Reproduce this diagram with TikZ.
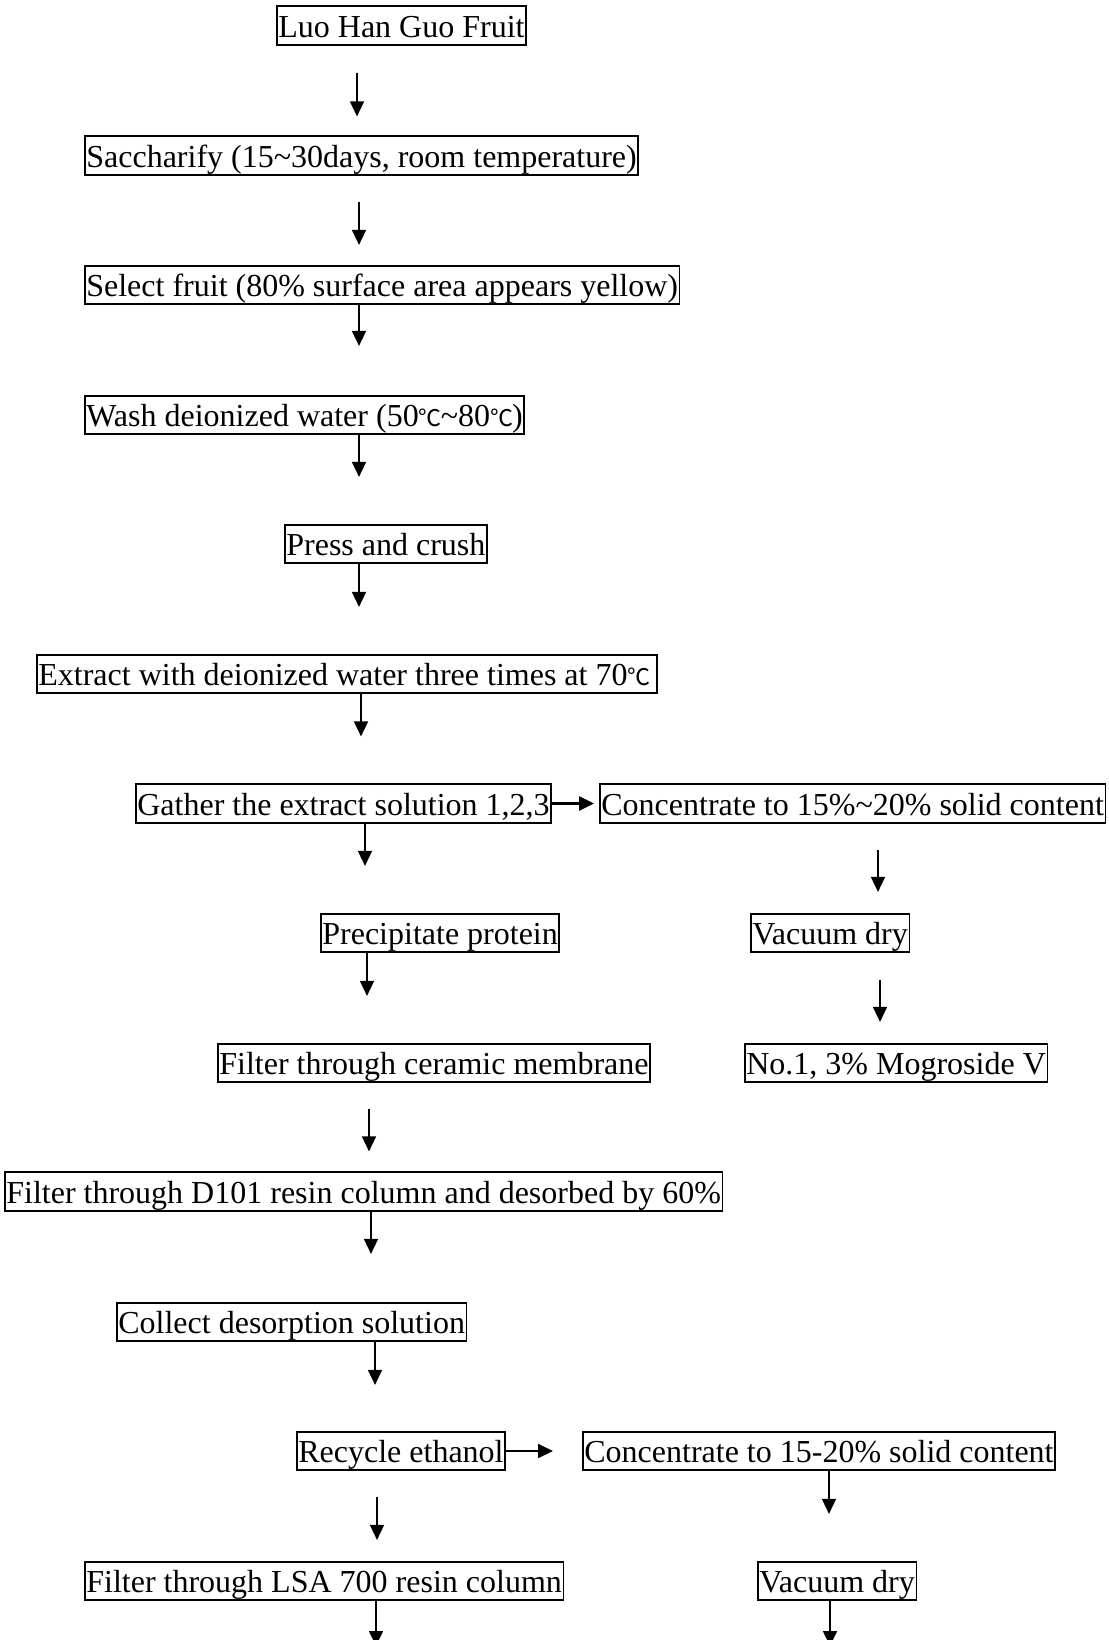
\documentclass[tikz,border=0pt]{standalone}
\usepackage{fontspec}
\setmainfont{Liberation Serif}
\newfontfamily\cjk{Noto Sans CJK SC}
\usepackage{tikz}
\usetikzlibrary{arrows.meta,calc}
\newcommand{\dgc}{\makebox[22pt][l]{\cjk\fontsize{23}{23}\selectfont ℃}}

\begin{document}
\begin{tikzpicture}[x=1pt,y=-1pt,
  stage/.style={draw, line width=1.7pt, anchor=west, inner xsep=1.5pt, inner ysep=0pt,
    text height=31pt, text depth=7.5pt, font=\fontsize{32}{32}\selectfont},
  flow/.style={-{Triangle[length=15pt,width=14pt]}, line width=1.6pt},
  bold flow/.style={flow, line width=2.6pt}]
\useasboundingbox (0,0) rectangle (1108,1640);
% main line
\node[stage] (fruit) at (276,25.5) {Luo Han Guo Fruit};
\node[stage] (sacch) at (84,155.5) {Saccharify (15\textasciitilde30days, room temperature)};
\node[stage] (select) at (84,285) {Select fruit (80\% surface area appears yellow)};
\node[stage] (wash) at (84,415) {Wash deionized water (50\dgc\textasciitilde80\dgc)};
\node[stage] (press) at (284,544) {Press and crush};
\node[stage] (extract) at (36,674) {Extract with deionized water three times at 70\makebox[28pt][l]{\dgc}};
\node[stage] (gather) at (135,803.5) {Gather the extract solution 1,2,3};
\node[stage] (precip) at (320,933) {Precipitate protein};
\node[stage] (ceramic) at (217,1063) {Filter through ceramic membrane};
\node[stage] (dresin) at (4,1191.5) {Filter through D101 resin column and desorbed by 60\%};
\node[stage] (collect) at (116,1322) {Collect desorption solution};
\node[stage] (recycle) at (296,1451) {Recycle ethanol};
\node[stage] (lsa) at (84,1581) {Filter through LSA 700 resin column};
% side lines
\node[stage] (concA) at (599,803.5) {Concentrate to 15\%\textasciitilde20\% solid content};
\node[stage] (vacA) at (750,933) {Vacuum dry};
\node[stage] (prodA) at (744,1063) {No.1, 3\% Mogroside V};
\node[stage] (concB) at (582,1451) {Concentrate to 15-20\% solid content};
\node[stage] (vacB) at (757,1581) {Vacuum dry};
\coordinate (outA) at (376,1646);
\coordinate (outB) at (830,1646);

\draw[flow, shorten <=27pt, shorten >=19pt] (fruit.south -| 357,0) -- (sacch.north -| 357,0);
\draw[flow, shorten <=26pt, shorten >=20pt] (sacch.south -| 359,0) -- (select.north -| 359,0);
\draw[flow, shorten >=49pt] (select.south -| 359,0) -- (wash.north -| 359,0);
\draw[flow, shorten >=47pt] (wash.south -| 359,0) -- (press.north -| 359,0);
\draw[flow, shorten >=47pt] (press.south -| 359,0) -- (extract.north -| 359,0);
\draw[flow, shorten >=47pt] (extract.south -| 361,0) -- (gather.north -| 361,0);
\draw[bold flow, shorten >=5pt] (gather) -- (concA);
\draw[flow, shorten >=47pt] (gather.south -| 365,0) -- (precip.north -| 365,0);
\draw[flow, shorten <=26pt, shorten >=21pt] (concA.south -| 878,0) -- (vacA.north -| 878,0);
\draw[flow, shorten >=47pt] (precip.south -| 367,0) -- (ceramic.north -| 367,0);
\draw[flow, shorten <=27pt, shorten >=21pt] (vacA.south -| 880,0) -- (prodA.north -| 880,0);
\draw[flow, shorten <=26pt, shorten >=20pt] (ceramic.south -| 369,0) -- (dresin.north -| 369,0);
\draw[flow, shorten >=48pt] (dresin.south -| 371,0) -- (collect.north -| 371,0);
\draw[flow, shorten >=46pt] (collect.south -| 375,0) -- (recycle.north -| 375,0);
\draw[flow, line width=2pt, shorten >=29pt] (recycle) -- (concB);
\draw[flow, shorten <=26pt, shorten >=21pt] (recycle.south -| 377,0) -- (lsa.north -| 377,0);
\draw[flow, shorten >=47pt] (concB.south -| 829,0) -- (vacB.north -| 829,0);
\draw[flow] (lsa.south -| outA) -- (outA);
\draw[flow] (vacB.south -| outB) -- (outB);
\end{tikzpicture}
\end{document}
